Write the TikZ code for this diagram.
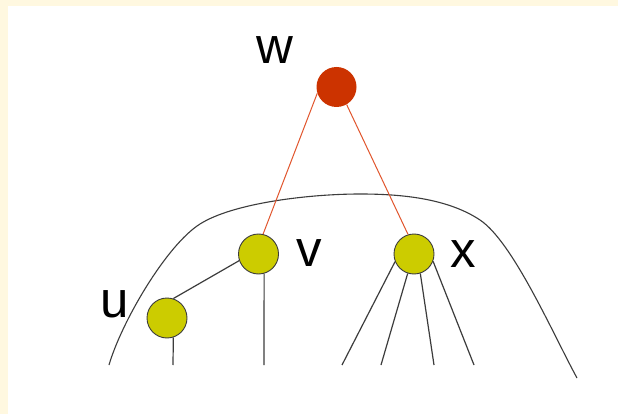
\documentclass[tikz,border=0pt]{standalone}
\usepackage{fontspec}
\setmainfont{Liberation Sans}
\definecolor{cream}{RGB}{255,248,224}
\definecolor{wred}{RGB}{204,51,0}
\definecolor{edgered}{RGB}{225,85,45}
\definecolor{olive}{RGB}{204,204,0}
\definecolor{linegray}{RGB}{60,60,60}
\begin{document}
\begin{tikzpicture}[x=1pt,y=-1pt,
  vert/.style={circle,draw=linegray,line width=0.9pt,fill=olive,minimum size=40pt,inner sep=0pt},
  topvert/.style={circle,fill=wred,minimum size=40pt,inner sep=0pt},
  lab/.style={inner sep=0pt,font=\fontsize{51}{60}\selectfont},
  redge/.style={draw=edgered,line width=1pt},
  gedge/.style={draw=linegray,line width=1.2pt}]
\useasboundingbox (0,0) rectangle (618,414);
\fill[cream] (0,0) rectangle (618,414);
\fill[white] (8,6) rectangle (618,414);
% big region curve
\draw[linegray,line width=1.1pt]
  (109,365) .. controls (121.6,321.8) and (166.4,245.2) .. (200,224)
  .. controls (233.6,202.8) and (310,194) .. (360,194)
  .. controls (400,194) and (447,198) .. (480,220)
  .. controls (513,242) and (553,334) .. (577,378);
% nodes
\node[topvert] (w) at (336.5,87) {};
\node[vert] (v) at (258.5,254) {};
\node[vert] (x) at (414,254) {};
\node[vert] (u) at (167,318) {};
% labels
\node[lab] (lw) at (275,50) {w};
\node[lab] (lv) at (309,253.5) {v};
\node[lab] (lx) at (463,254) {x};
\node[lab] (lu) at (115,304.5) {u};
% free ends
\coordinate (ub) at (173,365);
\coordinate (vb) at (264,365);
\coordinate (x1) at (342,365);
\coordinate (x2) at (381,365);
\coordinate (x3) at (434,365);
\coordinate (x4) at (474,365);
% edges
\draw[redge] (w.198) -- (v.77);
\draw[redge] (w.-60) -- (x.107);
\draw[gedge] (v.199) -- (u.72);
\draw[gedge] (u.-72) -- (ub);
\draw[gedge] (v.-74) -- (vb);
\draw[gedge] (x.202) -- (x1);
\draw[gedge] (x.252) -- (x2);
\draw[gedge] (x.-72) -- (x3);
\draw[gedge] (x.-21) -- (x4);
\end{tikzpicture}
\end{document}
